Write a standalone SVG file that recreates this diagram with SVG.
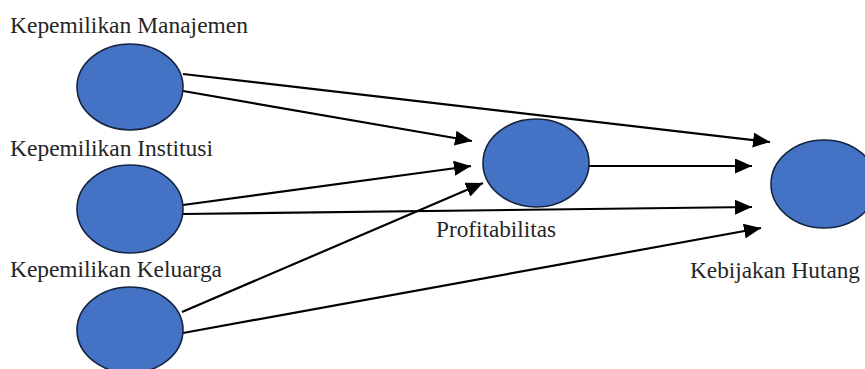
<svg xmlns="http://www.w3.org/2000/svg" width="865" height="369" viewBox="0 0 865 369">
<style>
.node ellipse{fill:#4472C4;stroke:#16243f;stroke-width:1.6}
.lbl{font-family:"Liberation Serif","Times New Roman",serif;font-size:23px;fill:#262626}
.conn line{stroke:#000;stroke-width:2.2}
</style>
<defs>
<marker id="ah" markerUnits="userSpaceOnUse" markerWidth="17" markerHeight="15" refX="17" refY="7.5" orient="auto">
<path d="M0,0 L17,7.5 L0,15 Z" fill="#000"/>
</marker>
</defs>
<rect width="865" height="369" fill="#fff"/>
<g class="conn">
<line x1="183" y1="74" x2="770" y2="142" marker-end="url(#ah)"/>
<line x1="183" y1="91" x2="472" y2="141" marker-end="url(#ah)"/>
<line x1="183" y1="205" x2="471" y2="166" marker-end="url(#ah)"/>
<line x1="183" y1="214" x2="752" y2="207" marker-end="url(#ah)"/>
<line x1="182" y1="312" x2="483" y2="183" marker-end="url(#ah)"/>
<line x1="183" y1="333" x2="761" y2="228" marker-end="url(#ah)"/>
<line x1="589" y1="166" x2="752" y2="166" marker-end="url(#ah)"/>
</g>
<g id="manajemen" class="node">
<ellipse cx="130" cy="87" rx="53" ry="43"/>
<text class="lbl" x="10" y="33" textLength="238" lengthAdjust="spacingAndGlyphs">Kepemilikan Manajemen</text>
</g>
<g id="institusi" class="node">
<ellipse cx="130" cy="209" rx="53" ry="44"/>
<text class="lbl" x="10" y="156" textLength="203" lengthAdjust="spacingAndGlyphs">Kepemilikan Institusi</text>
</g>
<g id="keluarga" class="node">
<ellipse cx="130" cy="330" rx="53" ry="43"/>
<text class="lbl" x="10" y="277" textLength="212" lengthAdjust="spacingAndGlyphs">Kepemilikan Keluarga</text>
</g>
<g id="profitabilitas" class="node">
<ellipse cx="536" cy="163" rx="53" ry="44"/>
<text class="lbl" x="436" y="237" textLength="120" lengthAdjust="spacingAndGlyphs">Profitabilitas</text>
</g>
<g id="hutang" class="node">
<ellipse cx="824" cy="184" rx="53" ry="44"/>
<text class="lbl" x="690" y="278" textLength="170" lengthAdjust="spacingAndGlyphs">Kebijakan Hutang</text>
</g>
</svg>
